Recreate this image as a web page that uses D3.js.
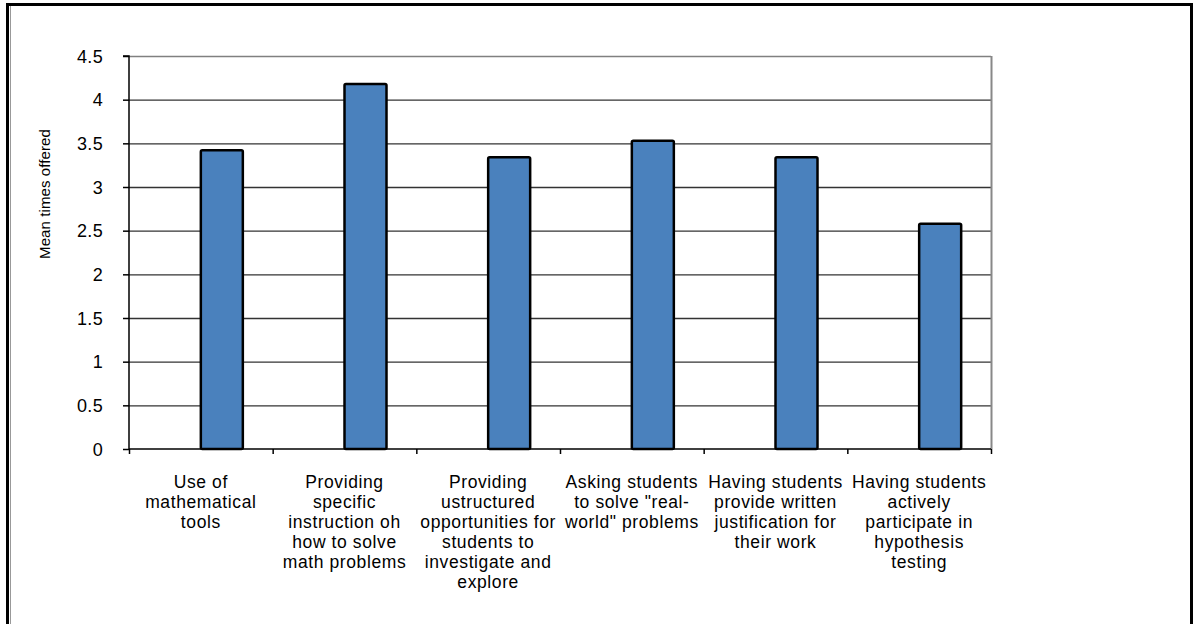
<!DOCTYPE html>
<html><head><meta charset="utf-8">
<script src="https://cdn.jsdelivr.net/npm/d3@7"></script>
<style>
html,body{margin:0;padding:0;background:#fff;}
svg{display:block;}
text{font-family:"Liberation Sans",Arial,sans-serif;fill:#000;}
</style></head>
<body>
<svg id="c" width="1195" height="624"></svg>
<script>
const categories = [
  ["Use of","mathematical","tools"],
  ["Providing","specific","instruction oh","how to solve","math problems"],
  ["Providing","ustructured","opportunities for","students to","investigate and","explore"],
  ["Asking students","to solve \"real-","world\" problems"],
  ["Having students","provide written","justification for","their work"],
  ["Having students","actively","participate in","hypothesis","testing"]
];
const values = [3.42, 4.18, 3.34, 3.53, 3.34, 2.58];
const yTicks = [0, 0.5, 1, 1.5, 2, 2.5, 3, 3.5, 4, 4.5];
const yTitle = "Mean times offered";

const svg = d3.select("#c");
// outer frame
svg.append("rect").attr("x",7.5).attr("y",4.5).attr("width",1184).attr("height",640)
  .attr("fill","none").attr("stroke","#000").attr("stroke-width",3);
svg.append("line").attr("x1",10.5).attr("x2",10.5).attr("y1",6).attr("y2",624)
  .attr("stroke","#999").attr("stroke-width",1);

const L=129, R=991, T=56, B=449;
const x = d3.scaleBand().domain(d3.range(categories.length)).range([L,R]);
const y = d3.scaleLinear().domain([0,4.5]).range([B,T]);

// gridlines
svg.append("g").selectAll("line").data(yTicks.filter(d=>d>0)).join("line")
  .attr("x1",L).attr("x2",R).attr("y1",d=>y(d)+0.5).attr("y2",d=>y(d)+0.5)
  .attr("stroke", d=>d===4.5?"#808080":"#333").attr("stroke-width",1.3);
// right plot border
svg.append("line").attr("x1",R+0.5).attr("x2",R+0.5).attr("y1",T).attr("y2",B)
  .attr("stroke","#888").attr("stroke-width",2);

// bars: start at category centre
const bw = 42;
svg.append("g").selectAll("rect").data(values).join("rect")
  .attr("x",(d,i)=>x(i)+x.bandwidth()/2)
  .attr("y",d=>y(d))
  .attr("width",bw)
  .attr("height",d=>B-y(d))
  .attr("fill","#4a81bd").attr("stroke","#000").attr("stroke-width",2.5)
  .attr("rx",1.5);

// y axis
const ya = d3.axisLeft(y).tickValues(yTicks).tickSize(6).tickPadding(20).tickFormat(d=>String(d));
const gy = svg.append("g").attr("transform",`translate(${L},0)`).call(ya);
gy.select(".domain").attr("stroke","#000").attr("stroke-width",1.5).attr("d",`M-6,${T}H0V${B}`);
gy.selectAll(".tick line").attr("stroke","#000").attr("stroke-width",1.5);
gy.selectAll(".tick text").attr("font-size",18).attr("letter-spacing","0.3px")
  .attr("font-family","Liberation Sans, Arial, sans-serif").attr("fill","#000").attr("dy","0.35em");

// x axis
const xb = d3.scaleLinear().domain([0,categories.length]).range([L,R]);
const xa = d3.axisBottom(xb).tickValues(d3.range(categories.length+1)).tickSize(5).tickFormat("");
const gx = svg.append("g").attr("transform",`translate(0,${B})`).call(xa);
gx.select(".domain").attr("stroke","#000").attr("stroke-width",1.5).attr("d",`M${L},0H${R}`);
gx.selectAll(".tick line").attr("stroke","#000").attr("stroke-width",1.5);

// category labels
const lab = svg.append("g").selectAll("text").data(categories).join("text")
  .attr("text-anchor","middle").attr("font-size",17.5).attr("letter-spacing","0.6px")
  .attr("x",(d,i)=>x(i)+x.bandwidth()/2)
  .attr("y",488);
lab.selectAll("tspan").data(d=>d).join("tspan")
  .attr("x",function(){return this.parentNode.getAttribute("x");})
  .attr("dy",(d,i)=>i===0?0:20)
  .text(d=>d);

// y title
svg.append("text").attr("transform","translate(50,194) rotate(-90)")
  .attr("text-anchor","middle").attr("font-size",15).attr("letter-spacing","0.1px")
  .text(yTitle);
</script>
</body></html>
